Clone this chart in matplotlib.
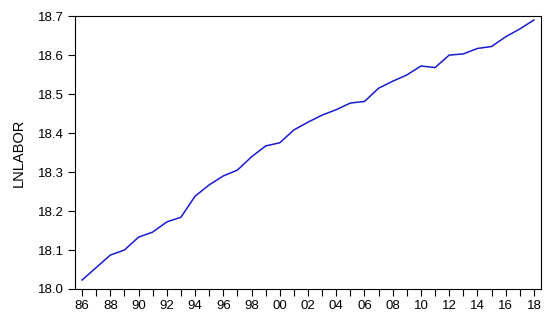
import matplotlib
matplotlib.use("Agg")
import matplotlib.pyplot as plt
import numpy as np

# データ（年と LNLABOR）
years = np.arange(1986, 2019)
lnlabor = [18.023, 18.055, 18.087, 18.100, 18.133, 18.146, 18.172, 18.184,
           18.238, 18.267, 18.290, 18.305, 18.339, 18.367, 18.375, 18.408,
           18.428, 18.446, 18.460, 18.477, 18.481, 18.515, 18.533, 18.549,
           18.572, 18.568, 18.600, 18.603, 18.617, 18.622, 18.647, 18.667,
           18.690]
ytick_vals = [18.0, 18.1, 18.2, 18.3, 18.4, 18.5, 18.6, 18.7]

plt.rcParams['font.family'] = ['Liberation Sans', 'DejaVu Sans']

fig = plt.figure(figsize=(5.5, 3.22), dpi=100)
ax = fig.add_axes([0.1364, 0.1025, 0.8472, 0.8475])

ax.plot(years, lnlabor, color="#1a1ad0", linewidth=1.1)

ax.set_xlim(1985.5, 2018.5)
ax.set_ylim(18.0, 18.7)
ax.set_xticks(years, minor=True)
even_years = years[years % 2 == 0]
ax.set_xticks(even_years)
ax.set_xticklabels([f"{y % 100:02d}" for y in even_years])
ax.set_yticks(ytick_vals)
ax.set_yticklabels([f"{v:.1f}" for v in ytick_vals])

ax.tick_params(axis="both", which="both", direction="out", length=5, width=0.8,
               labelsize=9.5, colors="black", pad=3)
ax.set_ylabel("LNLABOR", fontsize=10.5, labelpad=9)
for s in ax.spines.values():
    s.set_linewidth(0.8)

plt.savefig("out.png", dpi=100)
